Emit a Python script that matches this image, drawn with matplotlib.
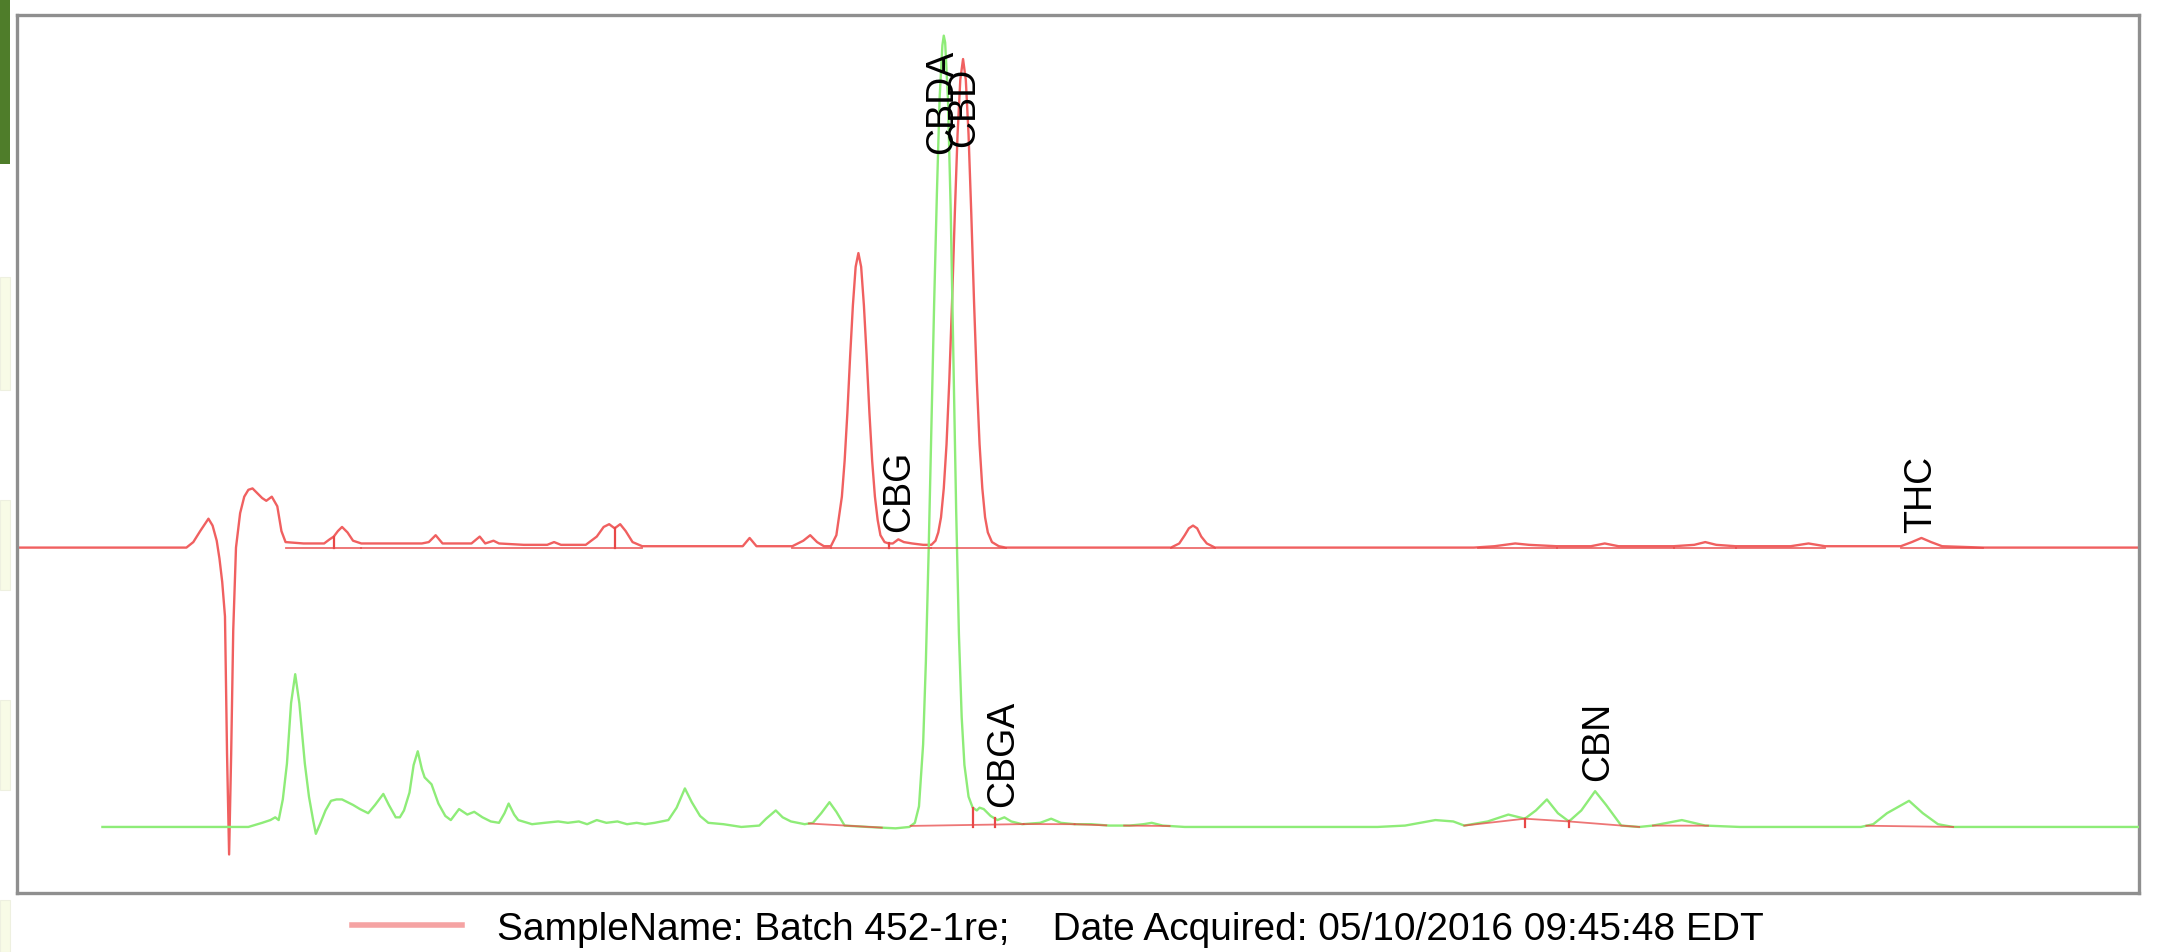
import numpy as np
import matplotlib.pyplot as plt
from matplotlib.lines import Line2D
from matplotlib.patches import Rectangle

# retention time (min) and detector signal above each trace's own baseline
red_t = [0.12, 1.35, 1.40, 1.45, 1.51, 1.54, 1.57, 1.59, 1.61, 1.63, 1.645, 1.66, 1.675, 1.69,
         1.71, 1.74, 1.77, 1.80, 1.83, 1.86, 1.90, 1.93, 1.97, 2.01, 2.04, 2.07, 2.20, 2.35,
         2.39, 2.42, 2.45, 2.48, 2.52, 2.56, 2.62, 2.80, 2.95, 3.06, 3.11, 3.16, 3.21, 3.30,
         3.42, 3.48, 3.52, 3.58, 3.62, 3.80, 3.97, 4.02, 4.07, 4.25, 4.33, 4.38, 4.42, 4.46,
         4.50, 4.54, 4.59, 4.66, 5.30, 5.39, 5.44, 5.49, 5.75, 5.83, 5.88, 5.93, 5.98, 6.03,
         6.07, 6.11, 6.13, 6.15, 6.17, 6.19, 6.21, 6.23, 6.25, 6.27, 6.29, 6.31, 6.33, 6.35,
         6.37, 6.39, 6.42, 6.45, 6.48, 6.52, 6.56, 6.62, 6.70, 6.76, 6.79, 6.81, 6.83, 6.85,
         6.87, 6.89, 6.91, 6.93, 6.95, 6.97, 6.99, 7.01, 7.03, 7.05, 7.07, 7.09, 7.11, 7.13,
         7.15, 7.17, 7.20, 7.25, 7.30, 8.50, 8.56, 8.60, 8.63, 8.66, 8.69, 8.72, 8.76, 8.82,
         10.70, 10.85, 11.00, 11.10, 11.30, 11.55, 11.65, 11.75, 12.15, 12.30, 12.38, 12.46,
         12.60, 13.00, 13.13, 13.25, 13.80, 13.88, 13.95, 14.02, 14.10, 14.40, 15.53]
red_sig = [0, 0, 4, 12, 21, 16, 5, -8, -25, -50, -150, -223, -150, -60,
           0, 25, 37, 42, 43, 40, 36, 34, 37, 30, 12, 4, 3, 3,
           6, 8, 12, 15, 11, 5, 3, 3, 3, 3, 4, 9, 3, 3,
           3, 8, 3, 5, 3, 2, 2, 4, 2, 2, 8, 15, 17, 14,
           17, 12, 4, 1, 1, 1, 7, 1, 1, 5, 9, 4, 1, 1,
           9, 37, 63, 98, 139, 176, 204, 214, 204, 176, 139, 98, 63, 37,
           20, 9, 4, 3, 3, 6, 4, 3, 2, 2, 5, 11, 22, 43,
           75, 121, 178, 242, 300, 340, 355, 340, 300, 242, 178, 121, 75, 43,
           22, 11, 4, 1, 0, 0, 3, 9, 14, 16, 14, 8, 3, 0,
           0, 1, 3, 2, 1, 1, 3, 1, 1, 2, 4, 2,
           1, 1, 3, 1, 1, 4, 7, 4, 1, 0, 0]

green_t = [0.74, 1.80, 1.90, 1.96, 1.995, 2.02, 2.05, 2.08, 2.11, 2.14, 2.17, 2.21, 2.24, 2.27,
           2.29, 2.32, 2.36, 2.40, 2.44, 2.48, 2.52, 2.56, 2.61, 2.67, 2.72, 2.78, 2.82, 2.87,
           2.90, 2.93, 2.97, 3.00, 3.03, 3.06, 3.08, 3.13, 3.18, 3.23, 3.27, 3.33, 3.39, 3.44,
           3.50, 3.56, 3.62, 3.66, 3.69, 3.73, 3.76, 3.86, 3.95, 4.05, 4.12, 4.20, 4.26, 4.33,
           4.40, 4.48, 4.55, 4.62, 4.68, 4.75, 4.85, 4.91, 4.97, 5.02, 5.08, 5.14, 5.25, 5.38,
           5.51, 5.56, 5.63, 5.68, 5.74, 5.84, 5.90, 5.96, 6.02, 6.07, 6.13, 6.30, 6.50, 6.60,
           6.64, 6.67, 6.70, 6.72, 6.74, 6.76, 6.78, 6.80, 6.82, 6.84, 6.85, 6.86, 6.88, 6.90,
           6.92, 6.94, 6.96, 6.98, 7.00, 7.03, 7.06, 7.09, 7.11, 7.14, 7.19, 7.24, 7.29, 7.34,
           7.42, 7.55, 7.63, 7.70, 7.80, 7.92, 8.05, 8.20, 8.30, 8.36, 8.44, 8.60, 10.00, 10.20,
           10.42, 10.55, 10.63, 10.80, 10.95, 11.07, 11.15, 11.23, 11.31, 11.39, 11.48, 11.58,
           11.66, 11.77, 11.90, 12.00, 12.21, 12.38, 12.63, 13.00, 13.51, 13.60, 13.70, 13.86,
           13.96, 14.07, 14.18, 15.53]
green_sig = [0, 0, 3, 5, 7, 5, 20, 46, 90, 111, 90, 46, 22, 5,
             -5, 2, 12, 19, 20, 20, 18, 16, 13, 10, 16, 24, 16, 7,
             7, 12, 25, 45, 55, 42, 36, 31, 17, 8, 5, 13, 9, 11,
             7, 4, 3, 10, 17, 9, 5, 2, 3, 4, 3, 4, 2, 5,
             3, 4, 2, 3, 2, 3, 5, 14, 28, 18, 8, 3, 2, 0,
             1, 6, 12, 7, 4, 2, 3, 10, 18, 11, 1, 0, -1, 0,
             3, 15, 60, 120, 200, 290, 380, 460, 530, 568, 575, 570, 530, 450,
             340, 230, 140, 80, 45, 22, 14, 12, 14, 13, 8, 5, 7, 4,
             2, 3, 6, 3, 2, 2, 1, 1, 2, 3, 1, 0, 0, 1,
             5, 4, 1, 4, 9, 6, 12, 20, 10, 4, 12, 26,
             16, 1, 0, 1, 5, 1, 0, 0, 0, 2, 10, 19,
             10, 2, 0, 0]

red_offset = 251
green_offset = 48

# integration baselines (start, end) and peak split times
red_bl = [(2.07, 2.62), (2.62, 4.66), (5.75, 6.03), (6.03, 6.45), (6.45, 6.76), (6.76, 7.30),
          (8.50, 8.82), (10.73, 11.30), (11.30, 12.15), (12.15, 12.60), (12.60, 13.25), (13.80, 14.40)]
red_drops = [2.42, 4.46, 6.45]
green_bl = [(5.87, 6.40), (6.61, 7.43), (7.43, 7.80), (7.80, 8.03), (8.16, 8.49), (10.63, 11.07),
            (11.07, 11.39), (11.39, 11.90), (12.00, 12.40), (13.55, 14.18)]
green_drops = [7.06, 7.22, 11.07, 11.39]

peak_names = ['CBG', 'CBDA', 'CBD', 'CBGA', 'CBN', 'THC']
peak_rt = [6.525, 6.835, 7.00, 7.28, 11.60, 13.95]
label_y = [263, 538, 543, 63, 82, 262]

legend_text = 'SampleName: Batch 452-1re;    Date Acquired: 05/10/2016 09:45:48 EDT'

RED = '#f06060'
GREEN = '#8eec78'
MARK = '#e84848'

plt.rcParams['font.family'] = ['Liberation Sans', 'DejaVu Sans']

fig = plt.figure(figsize=(21.58, 9.53), dpi=100)
ax = fig.add_axes([0.0079, 0.0619, 0.9833, 0.9213])

rt_r = np.array(red_t)
sig_r = np.array(red_sig) + red_offset
rt_g = np.array(green_t)
sig_g = np.array(green_sig) + green_offset

ax.plot(rt_r, sig_r, color=RED, lw=1.7, zorder=2)
ax.plot(rt_g, sig_g, color=GREEN, lw=1.7, zorder=3)

for t0, t1 in red_bl:
    ax.plot([t0, t1], [red_offset, red_offset], color=MARK, lw=1.3, alpha=0.8, zorder=4)
for t in red_drops:
    ax.plot([t, t], [red_offset, np.interp(t, rt_r, sig_r)], color=MARK, lw=1.6, zorder=4)

for t0, t1 in green_bl:
    ax.plot([t0, t1], [np.interp(t0, rt_g, sig_g), np.interp(t1, rt_g, sig_g)],
            color=MARK, lw=1.3, alpha=0.75, zorder=4)
for t in green_drops:
    ax.plot([t, t], [green_offset, np.interp(t, rt_g, sig_g)], color=MARK, lw=1.6, zorder=4)

for name, t, y in zip(peak_names, peak_rt, label_y):
    ax.text(t, y, name, rotation=90, ha='center', va='bottom', fontsize=27, color='black', zorder=5)

ax.set_xlim(0.12, 15.53)
ax.set_ylim(0, 638)
ax.set_xticks([])
ax.set_yticks([])
for sp in ax.spines.values():
    sp.set_color('#8f8f8f')
    sp.set_linewidth(2.4)

# legend under the chart
handle = Line2D([], [], color='#f5a3a3', lw=4)
fig.legend([handle], [legend_text], loc='center', bbox_to_anchor=(0.4904, 0.0246),
           frameon=False, fontsize=28, handlelength=2.83, handletextpad=0.9)

# leftover page strip from the screenshot
fig.patches.append(Rectangle((0, 1 - 165 / 953), 10 / 2158, 165 / 953, transform=fig.transFigure,
                             facecolor='#4f7d2a', edgecolor='none'))
for y0, y1 in [(278, 391), (501, 591), (701, 791), (901, 953)]:
    fig.patches.append(Rectangle((0, 1 - y1 / 953), 10 / 2158, (y1 - y0) / 953,
                                 transform=fig.transFigure, facecolor='#f8fbe6',
                                 edgecolor='#eef0e0', lw=0.8))

fig.savefig('out.png', dpi=100)
